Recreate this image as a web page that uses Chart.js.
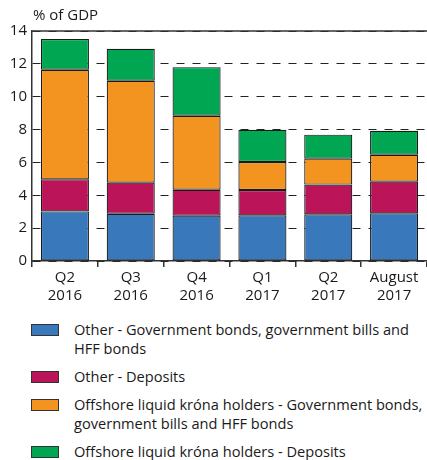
<!DOCTYPE html>
<html>
<head>
<meta charset="utf-8">
<script src="https://cdn.jsdelivr.net/npm/chart.js@4/dist/chart.umd.min.js"></script>
<style>
  body { margin: 0; background: #fff; font-family: "Open Sans", sans-serif; }
  #legend { position: absolute; left: 31px; top: 320px; width: 410px; }
  .item { display: flex; align-items: flex-start; margin-bottom: 9px; }
  .box { width: 26px; height: 10px; border: 1px solid #333; margin-top: 4px; flex: none; }
  .label { margin-left: 15px; width: 362px; flex: none; font-size: 14.6px; line-height: 19px; color: #1a1a1a; }
</style>
</head>
<body>
<canvas id="chart" width="427" height="310"></canvas>
<div id="legend"></div>
<script>
// categories (two-line labels)
var categories = [['Q2', '2016'], ['Q3', '2016'], ['Q4', '2016'], ['Q1', '2017'], ['Q2', '2017'], ['August', '2017']];

// % of GDP, stacked from bottom
var otherBonds = [3.02, 2.88, 2.76, 2.78, 2.84, 2.90];
var otherDeposits = [1.95, 1.89, 1.58, 1.54, 1.81, 1.93];
var offshoreBonds = [6.67, 6.20, 4.50, 1.71, 1.58, 1.64];
var offshoreDeposits = [1.87, 1.95, 2.96, 1.96, 1.46, 1.46];

var seriesNames = [
    'Other - Government bonds, government bills and HFF bonds',
    'Other - Deposits',
    'Offshore liquid króna holders - Government bonds, government bills and HFF bonds',
    'Offshore liquid króna holders - Deposits'
];
var seriesColors = ['#3a78bc', '#bb1459', '#f39420', '#00a651'];
var seriesData = [otherBonds, otherDeposits, offshoreBonds, offshoreDeposits];

var yTicks = [0, 2, 4, 6, 8, 10, 12, 14];

var fontFamily = '"Open Sans", sans-serif';
var axisColor = '#333';

// draws "% of GDP" and the solid top frame line
var extras = {
    id: 'extras',
    afterDraw: function (chart) {
        var ctx = chart.ctx;
        var area = chart.chartArea;
        ctx.save();
        ctx.strokeStyle = axisColor;
        ctx.lineWidth = 1.5;
        ctx.beginPath();
        ctx.moveTo(area.left, area.top);
        ctx.lineTo(area.right, area.top);
        ctx.stroke();
        ctx.fillStyle = '#1a1a1a';
        ctx.font = '15px ' + fontFamily;
        ctx.textBaseline = 'middle';
        ctx.fillText('% of GDP', area.left + 1, 16);
        ctx.restore();
    }
};

new Chart(document.getElementById('chart'), {
    type: 'bar',
    data: {
        labels: categories,
        datasets: seriesData.map(function (vals, i) {
            return {
                label: seriesNames[i],
                data: vals,
                backgroundColor: seriesColors[i],
                borderColor: '#1a1a1a',
                borderWidth: 1.2,
                borderSkipped: false,
                barPercentage: 0.73,
                categoryPercentage: 1
            };
        })
    },
    options: {
        responsive: false,
        animation: false,
        layout: { padding: { top: 31, right: 0, left: 0, bottom: 0 } },
        plugins: {
            legend: { display: false },
            tooltip: { enabled: false }
        },
        scales: {
            x: {
                stacked: true,
                offset: true,
                afterFit: function (s) { s.height = 49; },
                grid: {
                    offset: true,
                    drawOnChartArea: false,
                    drawTicks: true,
                    tickLength: 6,
                    color: axisColor,
                    lineWidth: 1.5
                },
                border: { color: axisColor, width: 1.5 },
                ticks: {
                    color: '#1a1a1a',
                    font: { family: fontFamily, size: 15 },
                    padding: 2,
                    maxRotation: 0,
                    autoSkip: false
                }
            },
            y: {
                stacked: true,
                min: 0,
                max: 14,
                afterFit: function (s) { s.width = 32; },
                afterBuildTicks: function (s) {
                    s.ticks = yTicks.map(function (v) { return { value: v }; });
                },
                grid: {
                    drawTicks: false,
                    color: '#222',
                    lineWidth: 1
                },
                border: { color: axisColor, width: 1.5, dash: [8, 8] },
                ticks: {
                    color: '#1a1a1a',
                    font: { family: fontFamily, size: 15 },
                    padding: 5
                }
            }
        }
    },
    plugins: [extras]
});

// html legend
var legend = document.getElementById('legend');
seriesNames.forEach(function (name, i) {
    var item = document.createElement('div');
    item.className = 'item';
    item.innerHTML = '<span class="box" style="background:' + seriesColors[i] + '"></span>' +
        '<span class="label">' + name + '</span>';
    legend.appendChild(item);
});
</script>
</body>
</html>
